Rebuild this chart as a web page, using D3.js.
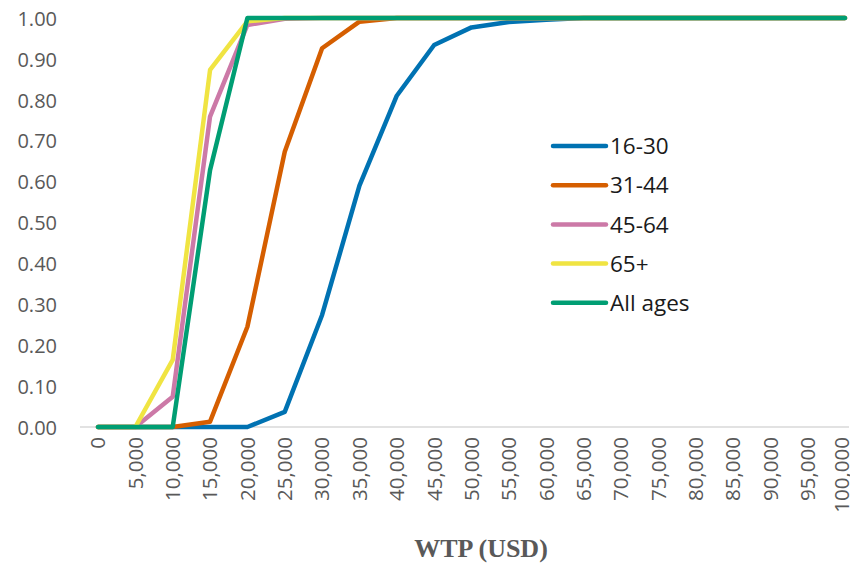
<!DOCTYPE html>
<html>
<head>
<meta charset="utf-8">
<script src="https://cdn.jsdelivr.net/npm/d3@7/dist/d3.min.js"></script>
<style>
  html, body { margin: 0; padding: 0; background: #fff; }
  svg { display: block; }
</style>
</head>
<body>
<svg id="chart" width="850" height="565"></svg>
<script>
const categories = [0,5000,10000,15000,20000,25000,30000,35000,40000,45000,50000,55000,60000,65000,70000,75000,80000,85000,90000,95000,100000];
const yTicks = [0,0.1,0.2,0.3,0.4,0.5,0.6,0.7,0.8,0.9,1.0];
const seriesNames = ["16-30","31-44","45-64","65+","All ages"];
const seriesColors = ["#0072B2","#D55E00","#CC79A7","#F0E442","#009E73"];
const v1630 = [0,0,0,0,0,0.037,0.274,0.59,0.81,0.934,0.977,0.99,0.996,1,1,1,1,1,1,1,1];
const v3144 = [0,0,0,0.013,0.245,0.673,0.926,0.991,1,1,1,1,1,1,1,1,1,1,1,1,1];
const v4564 = [0,0,0.074,0.759,0.983,0.998,1,1,1,1,1,1,1,1,1,1,1,1,1,1,1];
const v65 = [0,0,0.164,0.873,0.992,1,1,1,1,1,1,1,1,1,1,1,1,1,1,1,1];
const vAll = [0,0,0,0.628,1,1,1,1,1,1,1,1,1,1,1,1,1,1,1,1,1];
const seriesValues = [v1630, v3144, v4564, v65, vAll];
const xTitle = "WTP (USD)";

const svg = d3.select("#chart");
const x = d3.scalePoint().domain(categories).range([98, 845]);
const y = d3.scaleLinear().domain([0, 1]).range([427, 18]);
const fmtX = d3.format(",");
const fmtY = d3.format(".2f");

// x axis baseline
svg.append("line")
  .attr("x1", 80).attr("x2", 849)
  .attr("y1", y(0)).attr("y2", y(0))
  .attr("stroke", "#d9d9d9").attr("stroke-width", 1.5);

// y tick labels
const yAxis = d3.axisLeft(y).tickValues(yTicks).tickFormat(fmtY).tickSize(0).tickPadding(0);
const yg = svg.append("g").attr("transform", "translate(57,0)").call(yAxis);
yg.select(".domain").remove();
yg.selectAll("text")
  .attr("font-family", "'Open Sans', sans-serif")
  .attr("font-size", 20)
  .attr("fill", "#595959")
  .attr("dy", "0.36em");

// x tick labels
const xAxis = d3.axisBottom(x).tickFormat(fmtX).tickSize(0).tickPadding(0);
const xg = svg.append("g").attr("transform", `translate(0,${y(0)})`).call(xAxis);
xg.select(".domain").remove();
const lastCat = categories[categories.length - 1];
xg.selectAll("text")
  .attr("font-family", "'Open Sans', sans-serif")
  .attr("font-size", 20.5)
  .attr("fill", "#595959")
  .attr("text-anchor", "end")
  .attr("transform", "rotate(-90)")
  .attr("x", -10)
  .attr("y", d => d === lastCat ? -3.5 : -0.5)
  .attr("dy", "0.36em");

// lines
const line = d3.line()
  .x((d, i) => x(categories[i]))
  .y(d => y(d));

seriesValues.forEach((vals, k) => {
  svg.append("path")
    .datum(vals)
    .attr("d", line)
    .attr("fill", "none")
    .attr("stroke", seriesColors[k])
    .attr("stroke-width", 4.5)
    .attr("stroke-linejoin", "round")
    .attr("stroke-linecap", "round");
});

// legend
const lg = svg.append("g");
seriesNames.forEach((name, k) => {
  const ly = 146 + k * 39.2;
  lg.append("line")
    .attr("x1", 553).attr("x2", 606)
    .attr("y1", ly).attr("y2", ly)
    .attr("stroke", seriesColors[k])
    .attr("stroke-width", 4.5)
    .attr("stroke-linecap", "round");
  lg.append("text")
    .attr("x", 610).attr("y", ly)
    .attr("dy", "0.36em")
    .attr("font-family", "'Open Sans', sans-serif")
    .attr("font-size", 22.5)
    .attr("fill", "#1a1a1a")
    .text(name);
});

// x axis title
svg.append("text")
  .attr("x", 481).attr("y", 557)
  .attr("text-anchor", "middle")
  .attr("font-family", "'Liberation Serif', 'Times New Roman', serif")
  .attr("font-weight", "bold")
  .attr("font-size", 26)
  .attr("fill", "#595959")
  .text(xTitle);
</script>
</body>
</html>
